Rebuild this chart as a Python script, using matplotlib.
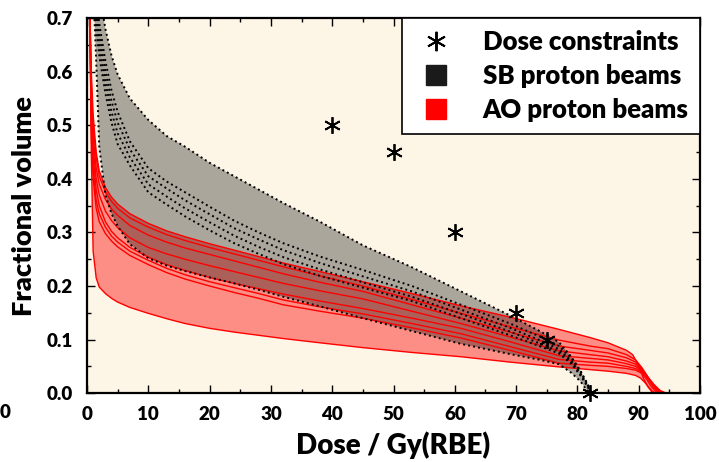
import numpy as np
import matplotlib
matplotlib.use("Agg")
import matplotlib.pyplot as plt
from matplotlib.lines import Line2D
from matplotlib.ticker import MultipleLocator

plt.rcParams['font.family'] = ['Lato', 'DejaVu Sans']
plt.rcParams['font.weight'] = 'heavy'

# ---- dose constraints ----
constraint_dose = [40, 50, 60, 70, 75, 82]
constraint_vol = [0.50, 0.45, 0.30, 0.15, 0.10, 0.00]

# ---- AO proton beams (DVH curves) ----
ao_grid = [0, 0.5, 0.7, 1.0, 1.5, 2.0, 3.0, 4.0, 5.0, 7.0, 10, 13, 16, 20, 24,
           28, 32, 38, 45, 53, 61, 69, 77, 82, 85, 88]

ao1_vol = [1.0, 0.70, 0.60, 0.52, 0.45, 0.415, 0.384, 0.366, 0.353, 0.335, 0.317, 0.303,
           0.292, 0.279, 0.267, 0.255, 0.243, 0.227, 0.208, 0.186, 0.163, 0.142, 0.119,
           0.104, 0.094, 0.080]
ao1_tail_dose = [89, 89.7, 90.3, 90.8, 91.5, 92.3]
ao1_tail_vol = [0.072, 0.058, 0.042, 0.027, 0.012, 0.0]

ao2_vol = [1.0, 0.70, 0.58, 0.50, 0.44, 0.405, 0.376, 0.358, 0.345, 0.327, 0.310, 0.296,
           0.285, 0.272, 0.260, 0.248, 0.236, 0.219, 0.200, 0.175, 0.149, 0.124, 0.099,
           0.088, 0.083, 0.072]
ao2_tail_dose = [89.5, 90.5, 91.3, 92.0, 92.8, 93.5]
ao2_tail_vol = [0.062, 0.048, 0.034, 0.020, 0.008, 0.0]

ao3_vol = [1.0, 0.69, 0.56, 0.48, 0.42, 0.39, 0.362, 0.344, 0.332, 0.313, 0.295, 0.282,
           0.271, 0.259, 0.247, 0.235, 0.223, 0.207, 0.190, 0.165, 0.140, 0.114, 0.088,
           0.080, 0.075, 0.066]
ao3_tail_dose = [89.5, 90.5, 91.5, 92.3, 93.2, 94.0]
ao3_tail_vol = [0.058, 0.046, 0.030, 0.018, 0.006, 0.0]

ao4_vol = [1.0, 0.68, 0.54, 0.46, 0.40, 0.37, 0.34, 0.322, 0.309, 0.29, 0.272, 0.26,
           0.25, 0.238, 0.227, 0.216, 0.205, 0.191, 0.176, 0.153, 0.130, 0.105, 0.079,
           0.072, 0.068, 0.060]
ao4_tail_dose = [89.5, 90.5, 91.5, 92.5, 93.5, 94.5]
ao4_tail_vol = [0.054, 0.044, 0.030, 0.016, 0.005, 0.0]

ao5_vol = [1.0, 0.67, 0.52, 0.44, 0.38, 0.35, 0.32, 0.302, 0.29, 0.272, 0.254, 0.240,
           0.229, 0.216, 0.205, 0.195, 0.185, 0.172, 0.158, 0.140, 0.121, 0.096, 0.070,
           0.065, 0.062, 0.055]
ao5_tail_dose = [89.5, 90.5, 91.5, 92.5, 93.3, 94.0]
ao5_tail_vol = [0.050, 0.042, 0.028, 0.014, 0.004, 0.0]

ao6_vol = [1.0, 0.66, 0.50, 0.42, 0.36, 0.335, 0.31, 0.293, 0.282, 0.265, 0.248, 0.233,
           0.221, 0.208, 0.197, 0.186, 0.174, 0.161, 0.148, 0.130, 0.111, 0.087, 0.063,
           0.058, 0.056, 0.050]
ao6_tail_dose = [89.5, 90.5, 91.5, 92.3, 93.0, 93.6]
ao6_tail_vol = [0.046, 0.040, 0.027, 0.013, 0.004, 0.0]

ao7_vol = [1.0, 0.65, 0.48, 0.40, 0.345, 0.32, 0.298, 0.284, 0.273, 0.257, 0.240, 0.225,
           0.213, 0.200, 0.188, 0.177, 0.165, 0.153, 0.140, 0.122, 0.103, 0.080, 0.056,
           0.052, 0.050, 0.046]
ao7_tail_dose = [89.5, 90.5, 91.3, 92.0, 92.7, 93.2]
ao7_tail_vol = [0.043, 0.037, 0.026, 0.013, 0.004, 0.0]

ao8_vol = [1.0, 0.70, 0.45, 0.265, 0.215, 0.198, 0.186, 0.177, 0.170, 0.160, 0.149, 0.139,
           0.130, 0.121, 0.114, 0.108, 0.102, 0.094, 0.085, 0.076, 0.068, 0.058, 0.049,
           0.044, 0.041, 0.037]
ao8_tail_dose = [89.5, 90.3, 91.0, 91.7, 92.3, 92.8]
ao8_tail_vol = [0.033, 0.028, 0.020, 0.010, 0.003, 0.0]

# ---- SB proton beams (DVH curves) ----
sb_dose = [0, 1.0, 1.5, 2.0, 3.0, 4.0, 5.0, 7.0, 10, 13, 16, 20, 24, 28, 32, 38, 45,
           53, 61, 69, 74, 77, 79, 80.5, 81.5, 82.3]

sb1_vol = [1.0, 0.86, 0.80, 0.75, 0.68, 0.63, 0.595, 0.55, 0.51, 0.48, 0.46, 0.43, 0.405,
           0.38, 0.355, 0.32, 0.276, 0.235, 0.19, 0.145, 0.115, 0.095, 0.068, 0.042,
           0.020, 0.0]
sb2_vol = [1.0, 0.80, 0.74, 0.69, 0.62, 0.565, 0.525, 0.47, 0.42, 0.395, 0.375, 0.348,
           0.322, 0.300, 0.280, 0.255, 0.230, 0.20, 0.165, 0.13, 0.105, 0.088, 0.065,
           0.040, 0.020, 0.0]
sb3_vol = [1.0, 0.78, 0.72, 0.67, 0.60, 0.545, 0.505, 0.455, 0.405, 0.382, 0.360, 0.334,
           0.308, 0.287, 0.267, 0.243, 0.218, 0.19, 0.156, 0.122, 0.098, 0.082, 0.060,
           0.037, 0.018, 0.0]
sb4_vol = [1.0, 0.76, 0.70, 0.65, 0.58, 0.525, 0.485, 0.44, 0.39, 0.367, 0.345, 0.319,
           0.294, 0.273, 0.254, 0.231, 0.207, 0.18, 0.148, 0.115, 0.092, 0.078, 0.058,
           0.035, 0.017, 0.0]
sb5_vol = [1.0, 0.74, 0.68, 0.63, 0.56, 0.505, 0.465, 0.425, 0.375, 0.352, 0.330, 0.304,
           0.280, 0.260, 0.241, 0.219, 0.197, 0.172, 0.14, 0.108, 0.087, 0.074, 0.055,
           0.033, 0.015, 0.0]
sb6_vol = [1.0, 0.76, 0.62, 0.46, 0.37, 0.335, 0.312, 0.278, 0.252, 0.238, 0.228, 0.216,
           0.205, 0.193, 0.180, 0.162, 0.140, 0.116, 0.092, 0.073, 0.062, 0.054, 0.038,
           0.022, 0.006, 0.0]

legend_labels = ["Dose constraints", "SB proton beams", "AO proton beams"]

ao_curves = [
    (ao_grid + ao1_tail_dose, ao1_vol + ao1_tail_vol),
    (ao_grid + ao2_tail_dose, ao2_vol + ao2_tail_vol),
    (ao_grid + ao3_tail_dose, ao3_vol + ao3_tail_vol),
    (ao_grid + ao4_tail_dose, ao4_vol + ao4_tail_vol),
    (ao_grid + ao5_tail_dose, ao5_vol + ao5_tail_vol),
    (ao_grid + ao6_tail_dose, ao6_vol + ao6_tail_vol),
    (ao_grid + ao7_tail_dose, ao7_vol + ao7_tail_vol),
    (ao_grid + ao8_tail_dose, ao8_vol + ao8_tail_vol),
]
sb_curves = [(sb_dose, v) for v in (sb1_vol, sb2_vol, sb3_vol, sb4_vol, sb5_vol, sb6_vol)]


def envelope(curves, grid):
    stack = np.array([np.interp(grid, d, v, right=0.0) for d, v in curves])
    return stack.min(axis=0), stack.max(axis=0)


fig = plt.figure(figsize=(7.19, 4.62), dpi=100)
ax = fig.add_axes([0.121, 0.149, 0.8526, 0.8117])
ax.set_facecolor('#fdf5e6')

grid = np.linspace(0, 100, 2001)
ao_lo, ao_hi = envelope(ao_curves, grid)
sb_lo, sb_hi = envelope(sb_curves, grid)

ax.fill_between(grid, ao_lo, ao_hi, where=ao_hi > 0, color='red', alpha=0.42,
                linewidth=0, zorder=1)
ax.fill_between(grid, sb_lo, sb_hi, where=sb_hi > 0, color='black', alpha=0.32,
                linewidth=0, zorder=2)

for d, v in ao_curves:
    ax.plot(d, v, color='red', lw=1.0, zorder=3)
for d, v in sb_curves:
    ax.plot(d, v, color='black', lw=1.4, linestyle=(0, (1, 1.6)), zorder=4)

star = (6, 2, 0)
ax.plot(constraint_dose, constraint_vol, linestyle='none', marker=star,
        markersize=12, markeredgewidth=1.3, color='black', zorder=6, clip_on=False)

ax.set_xlim(0, 100)
ax.set_ylim(0, 0.7)
ax.xaxis.set_major_locator(MultipleLocator(10))
ax.xaxis.set_minor_locator(MultipleLocator(5))
ax.yaxis.set_major_locator(MultipleLocator(0.1))
ax.yaxis.set_minor_locator(MultipleLocator(0.05))
ax.yaxis.set_major_formatter(plt.FormatStrFormatter('%.1f'))
ax.tick_params(which='both', direction='in', top=True, right=True, width=1.0)
ax.tick_params(which='major', length=6, labelsize=13.5)
ax.tick_params(axis='y', which='major', pad=10)
ax.tick_params(axis='x', which='major', pad=9)
ax.tick_params(which='minor', length=3)
for s in ax.spines.values():
    s.set_linewidth(1.6)
    s.set_zorder(7)

ax.set_xlabel("Dose / Gy(RBE)", fontsize=20, fontweight='heavy', labelpad=6)
ax.set_ylabel("Fractional volume", fontsize=19.5, fontweight='heavy', labelpad=8)

fig.text(0.007, 0.107, "0", fontsize=13.5, fontweight='heavy', ha='center', va='center')

handles = [
    Line2D([], [], linestyle='none', marker=star, markersize=14, markeredgewidth=1.4,
           color='black'),
    Line2D([], [], linestyle='none', marker='s', markersize=15, color='#1a1a1a'),
    Line2D([], [], linestyle='none', marker='s', markersize=15, color='red'),
]
leg = ax.legend(handles, legend_labels, loc='upper right', borderaxespad=0,
                fancybox=False, framealpha=1, edgecolor='black',
                prop={'size': 18.5, 'weight': 'heavy'}, handlelength=1.8,
                handletextpad=0.9, labelspacing=0.4, borderpad=0.45)
leg.get_frame().set_linewidth(1.2)
leg.set_zorder(8)

fig.savefig('out.png', dpi=100)
